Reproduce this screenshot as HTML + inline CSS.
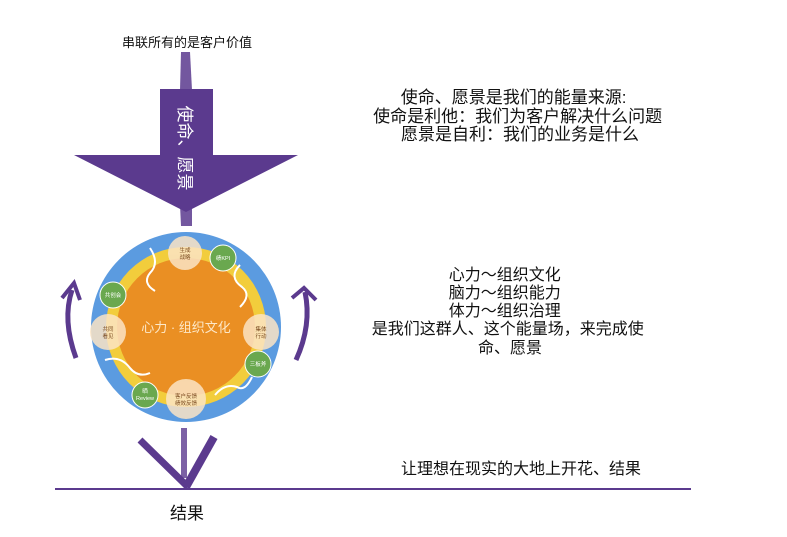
<!DOCTYPE html>
<html><head><meta charset="utf-8"><style>
body{margin:0;background:#fff;width:787px;height:537px;overflow:hidden}
svg{display:block}
text{font-family:"Liberation Sans","Noto Sans CJK SC",sans-serif}
</style></head><body>
<svg width="787" height="537" viewBox="0 0 787 537">
<text x="187" y="47" font-size="13" text-anchor="middle" fill="#111">串联所有的是客户价值</text>
<path d="M181 52 L190 52 L192 90 L180 90 Z" fill="#5b3a8e" opacity="0.85"/>
<path d="M180 205 L192 205 L192 226 L181 226 Z" fill="#5b3a8e" opacity="0.85"/>
<path d="M160 89 L213 89 L213 155 L298 155 L186 212 L74 155 L160 155 Z" fill="#5b3a8e"/>
<text transform="translate(179,148) rotate(90)" font-size="17" fill="#fff" text-anchor="middle">使命、愿景</text>

<text font-size="17" fill="#111" text-anchor="middle">
<tspan x="516" y="103">使命、愿景是我们的能量来源:</tspan>
<tspan x="520" y="122">使命是利他：我们为客户解决什么问题</tspan>
<tspan x="520" y="140">愿景是自利：我们的业务是什么</tspan></text>

<circle cx="186" cy="327" r="95" fill="#5b9be0"/>
<circle cx="186" cy="327" r="80" fill="#f2cd3c"/>
<circle cx="186" cy="327" r="69" fill="#ea8f23"/>
<g fill="none" stroke="#fff" stroke-width="2">
<path d="M150 248 q10 15 0 25 q-8 10 5 18"/>
<path d="M240 265 q-12 12 2 22 q10 8 -2 20"/>
<path d="M105 360 q15 -5 25 8 q8 10 20 5"/>
<path d="M215 395 q10 -12 22 -8 q8 5 15 -10"/>
</g>
<g fill="#fbe4c4" opacity="0.85">
<circle cx="185" cy="253" r="17"/><circle cx="108" cy="332" r="18"/>
<circle cx="261" cy="332" r="18"/><circle cx="186" cy="399" r="20"/>
</g>
<g fill="#6aa84f" stroke="#fff" stroke-width="1">
<circle cx="223" cy="258" r="13"/><circle cx="113" cy="295" r="13"/>
<circle cx="258" cy="364" r="13"/><circle cx="145" cy="395" r="13"/>
</g>
<g font-size="5.5" text-anchor="middle" fill="#7a4a20">
<text x="185" y="252">生成</text><text x="185" y="259">战略</text>
<text x="108" y="331">共同</text><text x="108" y="338">看见</text>
<text x="261" y="331">集体</text><text x="261" y="338">行动</text>
<text x="186" y="398">客户反馈</text><text x="186" y="405">绩效反馈</text>
</g>
<g font-size="5.5" text-anchor="middle" fill="#fff">
<text x="223" y="260">绩KPI</text><text x="113" y="297">共创会</text>
<text x="258" y="366">三板斧</text><text x="145" y="393">晒</text><text x="145" y="400">Review</text>
</g>
<text x="186" y="332" font-size="13" text-anchor="middle" fill="#fde8c8">心力 · 组织文化</text>

<path d="M76 358 Q62 320 72 290" fill="none" stroke="#5b3a8e" stroke-width="5"/>
<path d="M62 298 L74 283 L80 300" fill="none" stroke="#5b3a8e" stroke-width="4"/>
<path d="M296 360 Q312 325 305 292" fill="none" stroke="#5b3a8e" stroke-width="5"/>
<path d="M292 298 L304 288 L316 300" fill="none" stroke="#5b3a8e" stroke-width="4"/>

<text font-size="16" fill="#111" text-anchor="middle">
<tspan x="507" y="280">心力～组织文化</tspan>
<tspan x="507" y="298">脑力～组织能力</tspan>
<tspan x="507" y="316">体力～组织治理</tspan>
<tspan x="510" y="334">是我们这群人、这个能量场，来完成使</tspan>
<tspan x="510" y="353">命、愿景</tspan></text>

<path d="M181 428 L187 428 L187 478 L181 478 Z" fill="#5b3a8e" opacity="0.8"/>
<path d="M140 440 L188 487" stroke="#5b3a8e" stroke-width="7"/>
<path d="M186 487 L214 437" stroke="#5b3a8e" stroke-width="8"/>
<line x1="55" y1="489" x2="691" y2="489" stroke="#5b3a8e" stroke-width="2"/>
<text x="521" y="474" font-size="16" text-anchor="middle" fill="#111">让理想在现实的大地上开花、结果</text>
<text x="187" y="519" font-size="17" text-anchor="middle" fill="#111">结果</text>
</svg>
</body></html>
